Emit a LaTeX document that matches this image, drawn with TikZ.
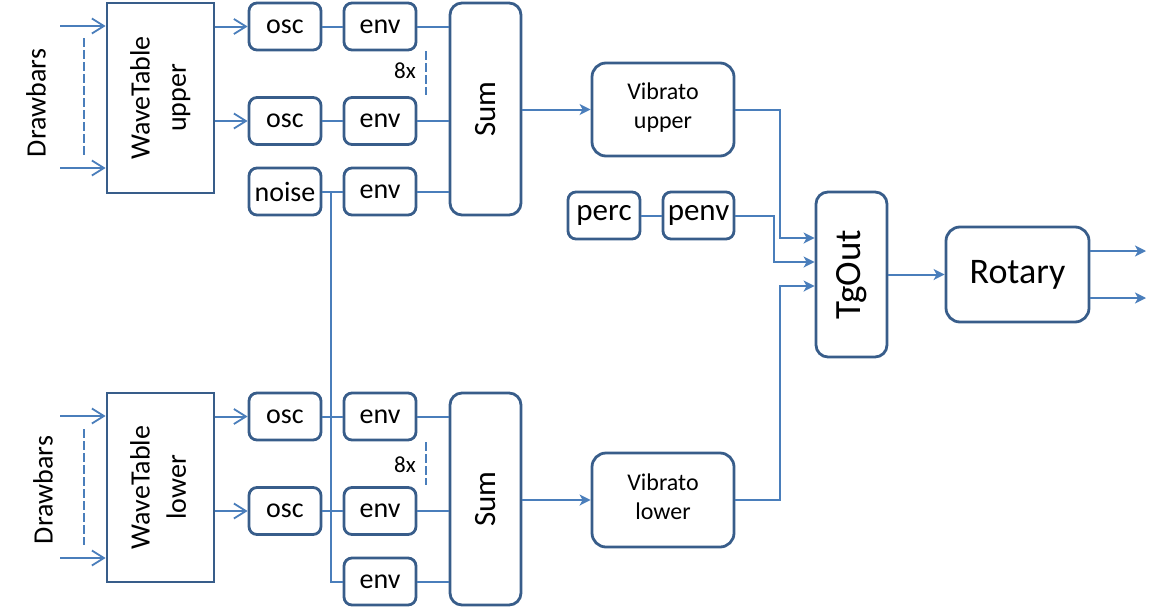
\documentclass[tikz,border=0pt]{standalone}
\usepackage{fontspec}
\usepackage{graphicx}
\setmainfont{Carlito}
\usetikzlibrary{arrows.meta}
\definecolor{bord}{HTML}{385D8A}
\definecolor{conn}{HTML}{4A7EBB}
\newcommand{\fs}[1]{\fontsize{#1}{#1}\selectfont}
\tikzset{
  box/.style={draw=bord, line width=2.8pt, rounded corners=8pt, minimum width=72pt, minimum height=47pt, inner sep=0pt, font=\fs{28}},
  wtbox/.style={draw=bord, line width=2.8pt, minimum width=107pt, inner sep=0pt},
  bigbox/.style={draw=bord, line width=2.8pt, rounded corners=14pt, minimum width=142pt, minimum height=93pt, inner sep=0pt},
  sumbox/.style={draw=bord, line width=2.8pt, rounded corners=12pt, minimum width=71pt, minimum height=212pt, inner sep=0pt},
  wire/.style={draw=conn, line width=2pt},
  oarr/.style={wire, -{Straight Barb[length=12pt,width=15pt,line width=1.8pt]}},
  farr/.style={wire, -{Stealth[length=11pt,width=11pt,inset=3pt]}},
  dashv/.style={draw=conn, line width=2.2pt, dash pattern=on 9pt off 3pt},
  lbl/.style={inner sep=0pt}
}
\begin{document}
\begin{tikzpicture}[x=1pt,y=-1pt]
\useasboundingbox (0,0) rectangle (1161,608);
% upper
\node[wtbox, minimum height=190pt] (wtu) at (160.5,98) {\rotatebox{90}{\fs{28}\renewcommand\arraystretch{1.3}\begin{tabular}{@{}c@{}}WaveTable\\upper\end{tabular}}};
\node[lbl, rotate=90, font=\fs{28}] (dbu) at (36,103) {Drawbars};
\node[box] (oscu1) at (285,26.5) {osc};
\node[box] (envu1) at (380,26.5) {env};
\node[box] (oscu2) at (285,121) {osc};
\node[box] (envu2) at (380,121) {env};
\node[box] (noise) at (285,191.5) {noise};
\node[box] (envu3) at (380,191.5) {env};
\node[sumbox] (sumu) at (485.5,109) {\rotatebox{90}{\fs{31}Sum}};
\node[lbl, font=\fs{23}] (xu) at (405,71) {8x};
\node[bigbox] (vibu) at (663,109.5) {\fs{24}\begin{tabular}{@{}c@{}}Vibrato\\[5pt]upper\end{tabular}};
\node[box, minimum width=72pt, font=\fs{31}] (perc) at (604,215.5) {perc};
\node[box, minimum width=71pt, font=\fs{31}] (penv) at (698.5,215.5) {penv};
\node[box, rounded corners=12pt, minimum width=71pt, minimum height=165pt] (tgout) at (851.5,274.5) {\rotatebox{90}{\fs{37}TgOut}};
\node[bigbox, minimum width=143pt, minimum height=95pt, font=\fs{36}] (rotary) at (1017.5,274.5) {Rotary};
% lower
\node[wtbox, minimum height=189pt] (wtl) at (160.5,487.5) {\rotatebox{90}{\fs{28}\renewcommand\arraystretch{1.3}\begin{tabular}{@{}c@{}}WaveTable\\lower\end{tabular}}};
\node[lbl, rotate=90, font=\fs{28}] (dbl) at (43,490) {Drawbars};
\node[box] (oscl1) at (285,416.5) {osc};
\node[box] (envl1) at (380,416.5) {env};
\node[box] (oscl2) at (285,511) {osc};
\node[box] (envl2) at (380,511) {env};
\node[box] (envl3) at (380,581.5) {env};
\node[sumbox] (suml) at (485.5,499) {\rotatebox{90}{\fs{31}Sum}};
\node[lbl, font=\fs{23}] (xl) at (405,465) {8x};
\node[bigbox, minimum height=94pt] (vibl) at (663,500) {\fs{24}\begin{tabular}{@{}c@{}}Vibrato\\[5pt]lower\end{tabular}};
% coordinates
\coordinate (du1) at (60,26);
\coordinate (du2) at (60,168);
\coordinate (dl1) at (60,416);
\coordinate (dl2) at (60,558);
\coordinate (nj) at (331,191.5);
\coordinate (ju) at (780,109.5);
\coordinate (jp) at (774,215.5);
\coordinate (jl) at (780,500);
\coordinate (ro1) at (1146,251);
\coordinate (ro2) at (1146,298);
% dashed
\draw[dashv] (84,38) -- (84,155);
\draw[dashv] (84,429) -- (84,545);
\draw[dashv] (426,51) -- (426,95);
\draw[dashv] (426,442) -- (426,485);
% connectors upper
\draw[oarr] (du1) -- (du1 -| wtu.west);
\draw[oarr] (du2) -- (du2 -| wtu.west);
\draw[oarr] (wtu.east |- oscu1) -- (oscu1.west);
\draw[oarr] (wtu.east |- oscu2) -- (oscu2.west);
\draw[wire] (oscu1) -- (envu1);
\draw[wire] (oscu2) -- (envu2);
\draw[wire] (noise) -- (envu3);
\draw[wire] (envu1.east) -- (envu1.east -| sumu.west);
\draw[wire] (envu2.east) -- (envu2.east -| sumu.west);
\draw[wire] (envu3.east) -- (envu3.east -| sumu.west);
\draw[wire] (nj) |- (envl3.west);
\draw[farr] (sumu.east |- vibu) -- (vibu.west);
\draw[wire] (perc) -- (penv);
\draw[farr] (vibu.east) -- (ju) |- ([yshift=36.5pt]tgout.west);
\draw[farr] (penv.east) -- (jp) |- ([yshift=12.5pt]tgout.west);
\draw[farr] (vibl.east) -- (jl) |- ([yshift=-11.5pt]tgout.west);
\draw[farr] (tgout.east) -- (rotary.west);
\draw[farr] (rotary.east |- ro1) -- (ro1);
\draw[farr] (rotary.east |- ro2) -- (ro2);
% connectors lower
\draw[oarr] (dl1) -- (dl1 -| wtl.west);
\draw[oarr] (dl2) -- (dl2 -| wtl.west);
\draw[oarr] (wtl.east |- oscl1) -- (oscl1.west);
\draw[oarr] (wtl.east |- oscl2) -- (oscl2.west);
\draw[wire] (oscl1) -- (envl1);
\draw[wire] (oscl2) -- (envl2);
\draw[wire] (envl1.east) -- (envl1.east -| suml.west);
\draw[wire] (envl2.east) -- (envl2.east -| suml.west);
\draw[wire] (envl3.east) -- (envl3.east -| suml.west);
\draw[farr] (suml.east |- vibl) -- (vibl.west);
\end{tikzpicture}
\end{document}
